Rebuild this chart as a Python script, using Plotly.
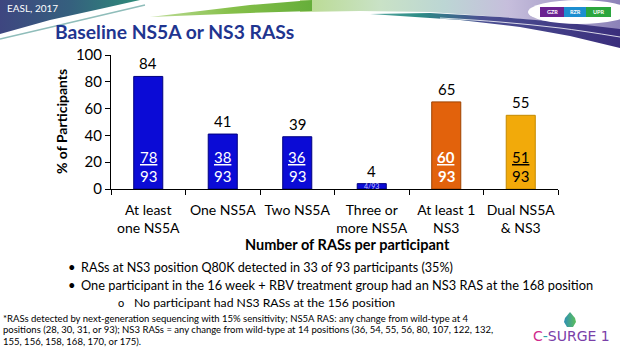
import plotly.graph_objects as go

# ---------------- data ----------------
categories = ["At least<br>one NS5A", "One NS5A", "Two NS5A",
              "Three or<br>more NS5A", "At least 1<br>NS3", "Dual NS5A<br>& NS3"]
percent = [84, 41, 39, 4, 65, 55]
numerators = [78, 38, 36, 4, 60, 51]
denominator = 93
y_ticks = [0, 20, 40, 60, 80, 100]

bar_colors = ["#0B0BD6", "#0B0BD6", "#0B0BD6", "#0B0BD6", "#E2620C", "#F2AA0A"]
edge_colors = ["#000080", "#000080", "#000080", "#000080", "#9E4300", "#C48A00"]
frac_colors = ["white", "white", "white", "#C8C8FF", "white", "black"]

bullets = [
    "RASs at NS3 position Q80K detected in 33 of 93 participants (35%)",
    "One participant in the 16 week + RBV treatment group had an NS3 RAS at the 168 position",
]
sub_bullet = "No participant had NS3 RASs at the 156 position"
footnote = [
    "*RASs detected by next-generation sequencing with 15% sensitivity; NS5A RAS: any change from wild-type at 4",
    "positions (28, 30, 31, or 93); NS3 RASs = any change from wild-type at 14 positions (36, 54, 55, 56, 80, 107, 122, 132,",
    "155, 156, 158, 168, 170, or 175).",
]

# ---------------- geometry (pixels) ----------------
W, H = 620, 347
PL, PR, PT, PB = 111, 558, 55, 189   # plot box


def fx(px):
    return px / W


def fy(py):
    return 1 - py / H


FONT = "Lato"

fig = go.Figure()

# bars
fig.add_trace(go.Bar(
    x=categories, y=percent,
    marker=dict(color=bar_colors, line=dict(color=edge_colors, width=1)),
    width=0.39, hoverinfo="skip", xaxis="x", yaxis="y",
))

annotations = []


def note(x, y, text, size, color="black", xanchor="center", family=FONT, **kw):
    annotations.append(dict(x=x, y=y, xref="paper", yref="paper", text=text,
                            showarrow=False, xanchor=xanchor, yanchor="middle",
                            font=dict(family=family, size=size, color=color), **kw))


# value labels above bars
for c, v in zip(categories, percent):
    annotations.append(dict(x=c, y=v, xref="x", yref="y", text=str(v), showarrow=False,
                            xanchor="center", yanchor="bottom", yshift=2,
                            font=dict(family=FONT, size=15, color="black")))

# fractions inside bars
for c, v, n, col in zip(categories, percent, numerators, frac_colors):
    if v < 10:
        annotations.append(dict(x=c, y=v / 2, xref="x", yref="y",
                                text=f"{n}/{denominator}", showarrow=False,
                                xanchor="center", yanchor="middle",
                                font=dict(family=FONT, size=7, color=col)))
        continue
    bold = c.startswith("At least 1")
    num = f"<u>{n}</u>"
    den = f"{denominator}"
    if bold:
        num, den = f"<b>{num}</b>", f"<b>{den}</b>"
    annotations.append(dict(x=c, y=24, xref="x", yref="y", text=num, showarrow=False,
                            xanchor="center", yanchor="middle",
                            font=dict(family=FONT, size=15, color=col)))
    annotations.append(dict(x=c, y=9.5, xref="x", yref="y", text=den, showarrow=False,
                            xanchor="center", yanchor="middle",
                            font=dict(family=FONT, size=15, color=col)))

# axis titles
note(fx(347), fy(244), "<b>Number of RASs per participant</b>", 14.5)
note(fx(62), fy(122), "<b>% of Participants</b>", 14, textangle=-90)

# slide title and header text
note(fx(53), fy(32), "<b>Baseline NS5A or NS3 RASs</b>", 19.3, color="#1F3590", xanchor="left")
note(fx(5), fy(8), "EASL, 2017", 10, color="white", xanchor="left")

# bullets
for i, (t, sz) in enumerate(zip(bullets, [12.6, 12.8])):
    yy = 267 + i * 17.5
    note(fx(66), fy(yy), "•", 13, xanchor="left")
    note(fx(79), fy(yy), t, sz, xanchor="left")
note(fx(116), fy(302), "o", 11, xanchor="left")
note(fx(132), fy(302), sub_bullet, 12.2, xanchor="left")

# footnote
for i, t in enumerate(footnote):
    note(fx(1), fy(318 + i * 11.5), t, 9.5, xanchor="left")

# logo text
note(fx(571), fy(336),
     "<span style='color:#D02A8C'>C</span><span style='color:#2A9FA8'>-</span>"
     "<span style='color:#7A40A8'>SURGE 1</span>", 14, family="DejaVu Sans")

# pill labels
for cx, lab in [(552, "GZR"), (575, "RZR"), (598, "UPR")]:
    note(fx(cx), fy(12), f"<b>{lab}</b>", 5.5, color="white")


# ---------------- header decoration (pixel space on a hidden overlay axis) ----------------
def poly(pts, colors, start, stop):
    xs = [p[0] for p in pts] + [pts[0][0]]
    ys = [p[1] for p in pts] + [pts[0][1]]
    fig.add_trace(go.Scatter(
        x=xs, y=ys, mode="lines", line=dict(width=0), fill="toself",
        fillgradient=dict(type="horizontal", colorscale=colors, start=start, stop=stop),
        hoverinfo="skip", xaxis="x2", yaxis="y2", showlegend=False))


# dark wedge top-left
poly([(0, 0), (140, 0), (100, 9), (50, 20), (0, 34)],
     [[0, "#3E4680"], [0.5, "#35607E"], [1, "#2E8C7A"]], 0, 140)
# light band right
poly([(300, 0), (620, 0), (620, 30), (560, 23), (500, 17), (430, 12), (360, 11), (300, 12)],
     [[0, "#B9DA8E"], [0.25, "#C9E2C6"], [0.45, "#BCD6D4"], [0.65, "#C6BEDC"], [1, "#8C82B8"]],
     300, 620)
# green sweep
poly([(150, 17), (200, 11), (250, 5), (312, 0), (312, 11), (250, 13), (200, 15)],
     [[0, "#BEDC98"], [0.5, "#86C04A"], [1, "#66AE3A"]], 150, 312)
# purple swoosh
poly([(370, 14), (430, 13), (500, 17), (560, 22), (620, 29), (620, 48), (570, 36),
      (520, 27), (460, 20), (400, 16)],
     [[0, "#5AA8A0"], [0.2, "#2C8C86"], [0.45, "#4B4F92"], [1, "#3A2E7C"]], 370, 620)
# thin lines
fig.add_trace(go.Scatter(x=[440, 500, 560, 620], y=[18, 22, 28, 37], mode="lines",
                         line=dict(color="rgba(255,255,255,0.8)", width=1, shape="spline"),
                         hoverinfo="skip", xaxis="x2", yaxis="y2", showlegend=False))
fig.add_trace(go.Scatter(x=[0, 60, 145], y=[39, 25, 5], mode="lines",
                         line=dict(color="#8FBDBA", width=1.5, shape="spline"),
                         hoverinfo="skip", xaxis="x2", yaxis="y2", showlegend=False))
# logo drop
poly([(570, 312), (575, 318), (576, 322), (573, 327), (567, 327), (564, 322), (565, 318)],
     [[0, "#2F8FB5"], [1, "#5CBF5A"]], 564, 576)

shapes = [
    # white oval behind pills
    dict(type="circle", xref="paper", yref="paper", x0=fx(528), x1=fx(630), y0=fy(24), y1=fy(0),
         fillcolor="white", line=dict(width=0), layer="above"),
    dict(type="rect", xref="paper", yref="paper", x0=fx(540), x1=fx(564), y0=fy(17), y1=fy(7),
         fillcolor="#6A2290", line=dict(width=0), layer="above"),
    dict(type="rect", xref="paper", yref="paper", x0=fx(564), x1=fx(586), y0=fy(17), y1=fy(7),
         fillcolor="#1C8ED0", line=dict(width=0), layer="above"),
    dict(type="rect", xref="paper", yref="paper", x0=fx(586), x1=fx(611), y0=fy(17), y1=fy(7),
         fillcolor="#2BA63E", line=dict(width=0), layer="above"),
]

fig.update_layout(
    width=W, height=H,
    margin=dict(l=0, r=0, t=0, b=0, autoexpand=False),
    paper_bgcolor="white", plot_bgcolor="rgba(0,0,0,0)",
    showlegend=False,
    annotations=annotations, shapes=shapes,
    xaxis=dict(domain=[fx(PL), fx(PR)], showline=True, linecolor="black", linewidth=1,
               ticks="outside", tickson="boundaries", ticklen=5, tickcolor="black",
               tickangle=0, automargin=False, ticklabelstandoff=8,
               tickfont=dict(family=FONT, size=14, color="black"), showgrid=False,
               anchor="y", fixedrange=True),
    yaxis=dict(domain=[fy(PB), fy(PT)], range=[0, 100], tickvals=y_ticks,
               showline=True, linecolor="black", linewidth=1, ticks="outside", ticklen=5,
               tickcolor="black", tickfont=dict(family=FONT, size=15, color="black"),
               showgrid=False, zeroline=False, anchor="x", fixedrange=True, automargin=False),
    xaxis2=dict(domain=[0, 1], range=[0, W], visible=False, anchor="y2", fixedrange=True,
                automargin=False),
    yaxis2=dict(domain=[0, 1], range=[H, 0], visible=False, anchor="x2", fixedrange=True,
                automargin=False),
)

fig.write_html("out.html")
